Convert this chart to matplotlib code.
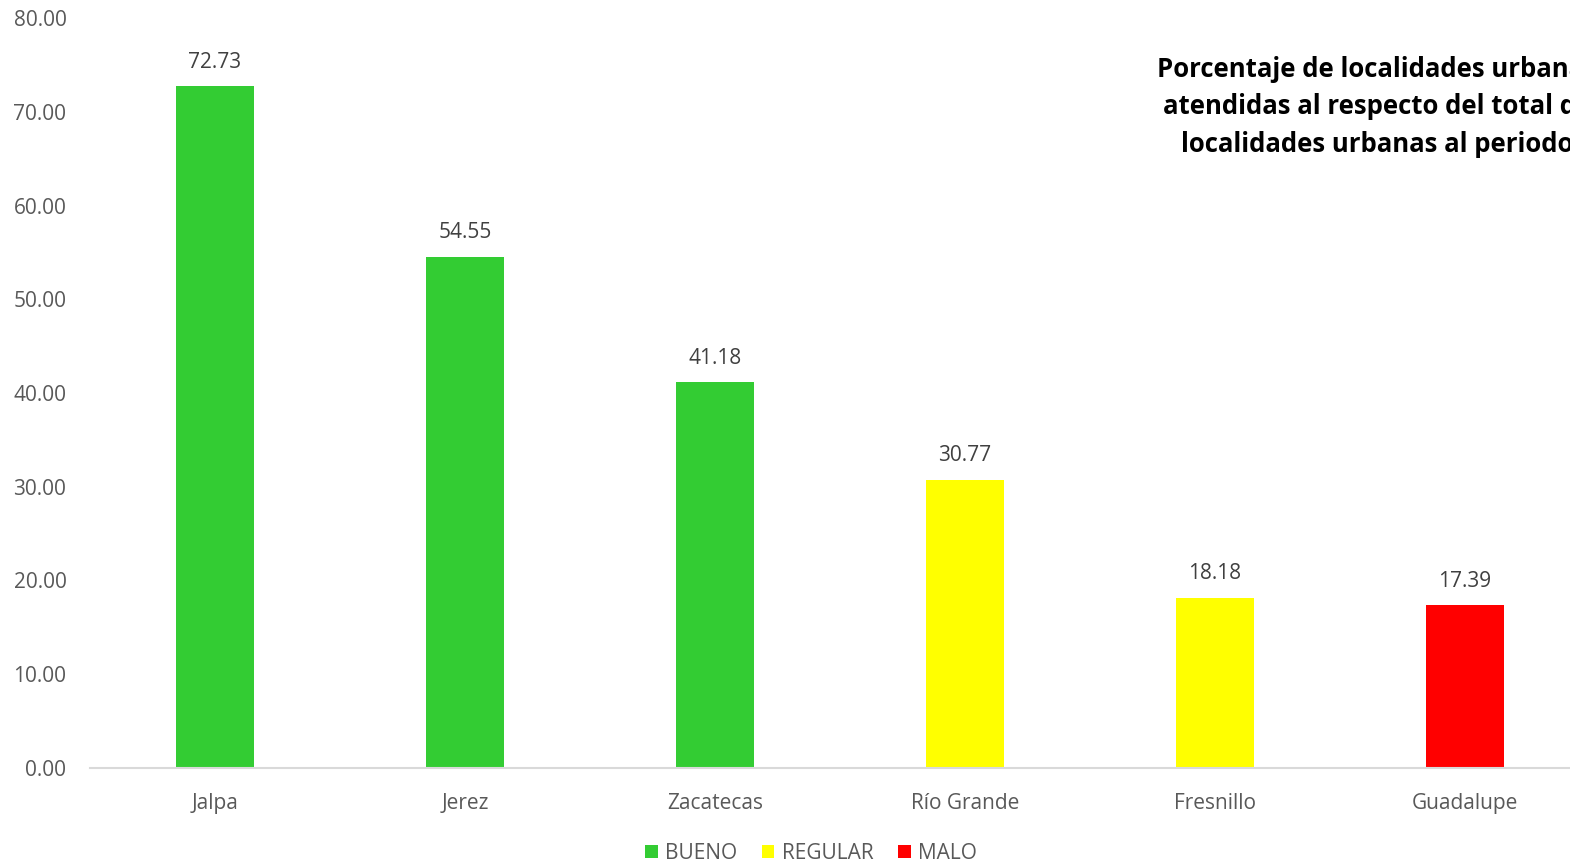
import matplotlib.pyplot as plt
from matplotlib.patches import Patch

municipios = ['Jalpa', 'Jerez', 'Zacatecas', 'Río Grande', 'Fresnillo', 'Guadalupe']
valores = [72.73, 54.55, 41.18, 30.77, 18.18, 17.39]
categorias = ['BUENO', 'BUENO', 'BUENO', 'REGULAR', 'REGULAR', 'MALO']
niveles = ['BUENO', 'REGULAR', 'MALO']
colores = {'BUENO': '#33CC33', 'REGULAR': '#FFFF00', 'MALO': '#FF0000'}
yticks = [0, 10, 20, 30, 40, 50, 60, 70, 80]

plt.rcParams['font.family'] = ['Open Sans', 'DejaVu Sans']

fig = plt.figure(figsize=(15.7, 8.63), dpi=100)
ax = fig.add_axes([90 / 1570, 95 / 863, 1500 / 1570, 750 / 863])

x = range(len(municipios))
ax.bar(x, valores, width=0.31, color=[colores[c] for c in categorias])

for xi, v in zip(x, valores):
    ax.text(xi, v + 1.4, f'{v:.2f}', ha='center', va='bottom', fontsize=15, color='#404040')

ax.set_xlim(-0.5, len(municipios) - 0.5)
ax.set_ylim(0, 80)
ax.set_yticks(yticks)
ax.set_yticklabels([f'{t:.2f}' for t in yticks])
ax.set_xticks(list(x))
ax.set_xticklabels(municipios)
ax.tick_params(axis='both', length=0, labelsize=15, colors='#595959')
ax.tick_params(axis='y', pad=17)
ax.tick_params(axis='x', pad=18)

for s in ['top', 'right', 'left']:
    ax.spines[s].set_visible(False)
ax.spines['bottom'].set_color('#D9D9D9')
ax.spines['bottom'].set_linewidth(1.5)

fig.text(1377 / 1570, 1 - 107 / 863,
         'Porcentaje de localidades urbanas\natendidas al respecto del total de\nlocalidades urbanas al periodo',
         ha='center', va='center', fontsize=18.5, fontweight='bold', color='black', linespacing=1.5)

handles = [Patch(facecolor=colores[n], label=n) for n in niveles]
fig.legend(handles=handles, loc='center', bbox_to_anchor=(811 / 1570, 1 - 853 / 863), ncol=3,
           frameon=False, fontsize=15, labelcolor='#595959', handlelength=0.6, handleheight=0.6,
           handletextpad=0.35, columnspacing=1.2)

fig.savefig('out.png', dpi=100)
